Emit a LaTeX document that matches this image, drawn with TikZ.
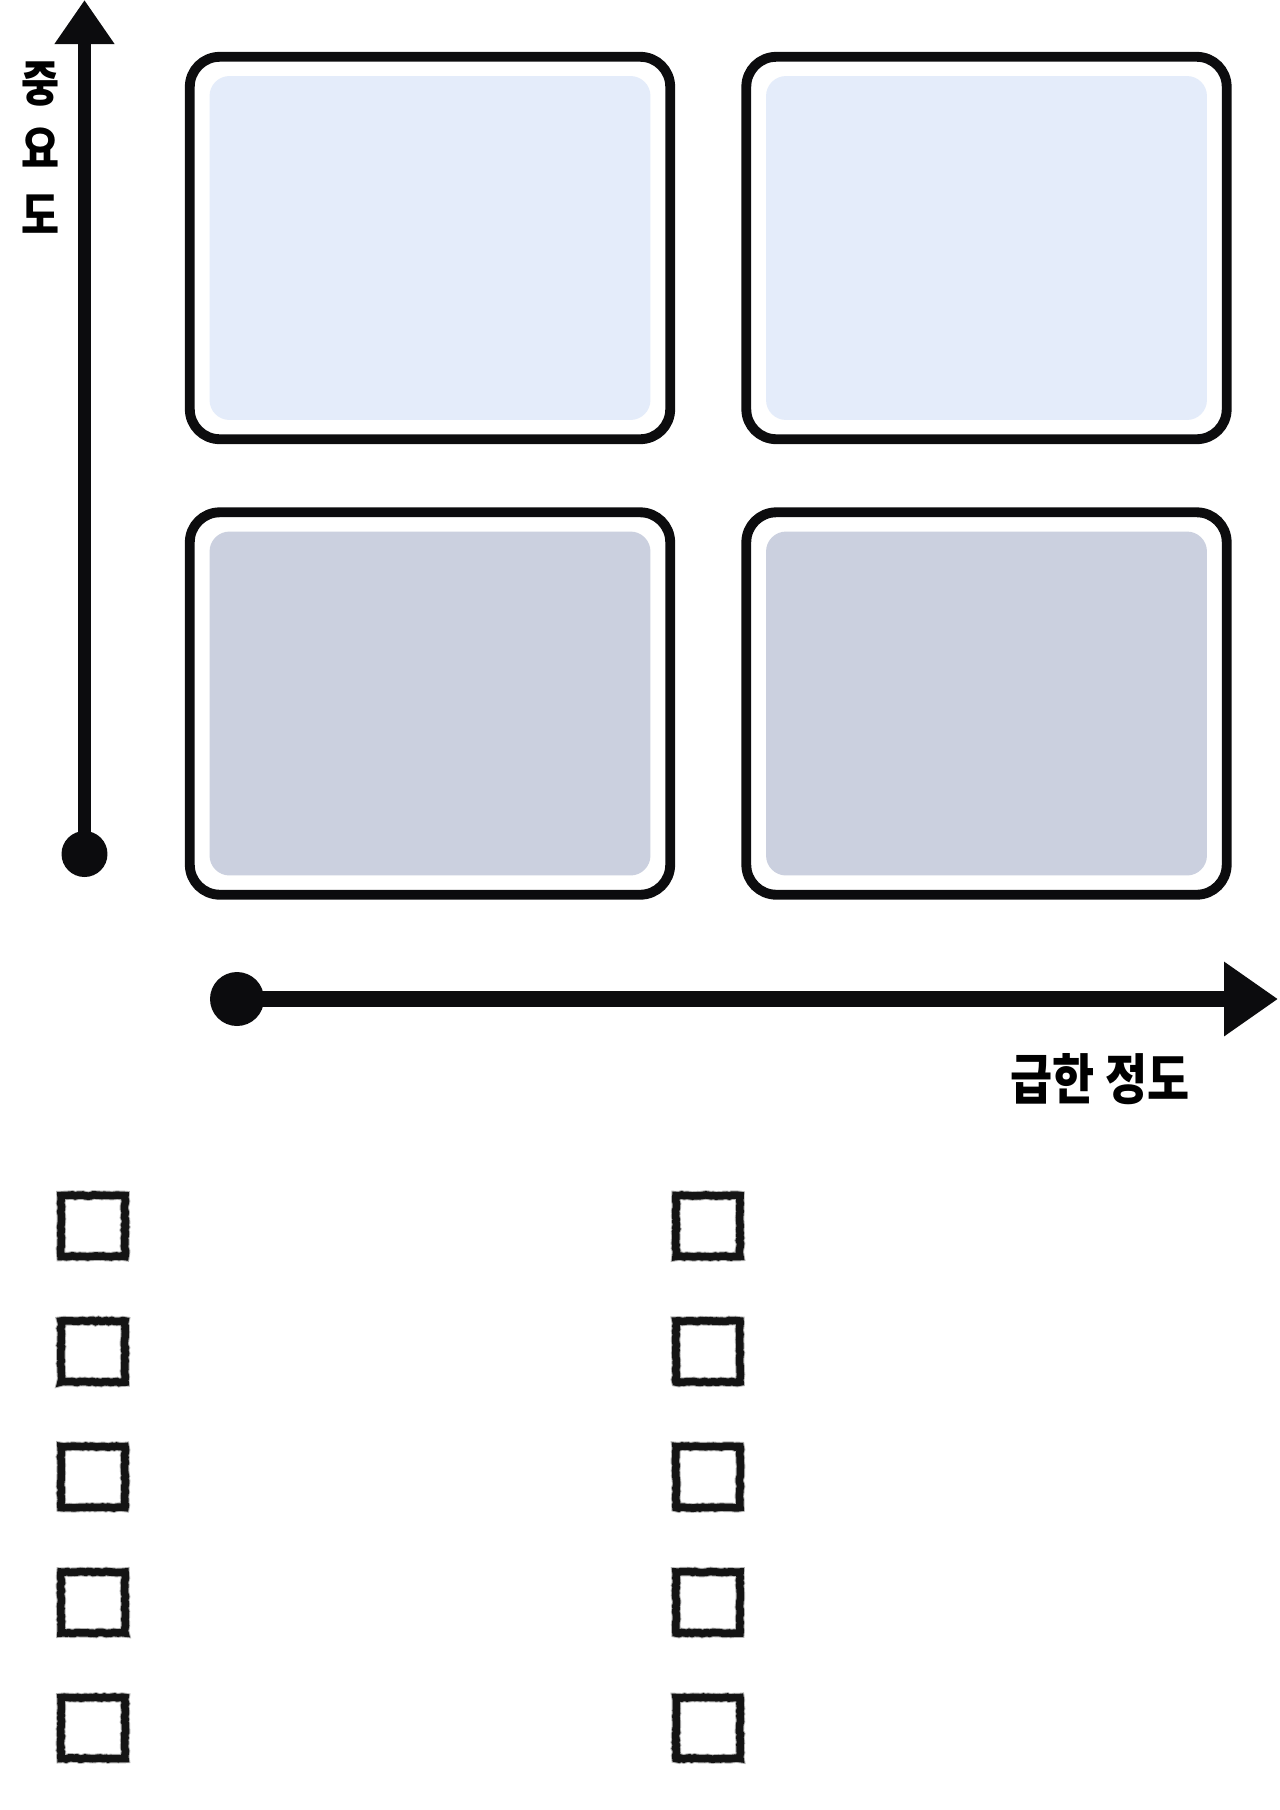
\documentclass[tikz,border=0pt]{standalone}
\usepackage{fontspec}
\newfontfamily\krfont{Noto Sans CJK KR}
\usetikzlibrary{arrows.meta,decorations.pathmorphing}
\definecolor{inkblack}{HTML}{0C0C0E}
\definecolor{highfill}{HTML}{E4ECFA}
\definecolor{lowfill}{HTML}{CBD0DF}

\begin{document}
\begin{tikzpicture}[x=0.02cm,y=-0.02cm]
\tikzstyle{quad} = [rectangle, draw=inkblack, line width=5.6pt, fill=white,
rounded corners=0.6cm, minimum width=9.61cm, minimum height=7.65cm, inner sep=0pt]
\tikzstyle{high} = [rectangle, fill=highfill, rounded corners=0.4cm,
minimum width=8.82cm, minimum height=6.88cm, inner sep=0pt]
\tikzstyle{low} = [high, fill=lowfill]
\tikzstyle{dot} = [circle, fill=inkblack, inner sep=0pt]
\tikzstyle{axislabel} = [text=black, inner sep=0pt]
\tikzstyle{tickbox} = [rectangle, draw=black!92, line width=4.3pt,
minimum width=1.28cm, minimum height=1.22cm, inner sep=0pt,
decorate, decoration={random steps, segment length=1.5pt, amplitude=0.35pt},
preaction={draw=black!30, line width=5.4pt, decorate}]
\pgfmathsetseed{7}
\useasboundingbox (0,0) rectangle (1280,1810);
% quadrants
\node [quad] (impN) at (430,248) {};
\node [quad] (impY) at (986.5,248) {};
\node [quad] (lowN) at (430,703.5) {};
\node [quad] (lowY) at (986.5,703.5) {};
\node [high] (impNin) at (impN) {};
\node [high] (impYin) at (impY) {};
\node [low] (lowNin) at (lowN) {};
\node [low] (lowYin) at (lowY) {};
% axes
\node [dot, minimum size=0.92cm] (ydot) at (84.5,854) {};
\coordinate (ytip) at (84.5,0);
\draw [inkblack, line width=7.4pt, -{Triangle[length=0.88cm,width=1.14cm]}] (ydot.center) -- (ytip);
\node [dot, minimum size=1.08cm] (xdot) at (237,999) {};
\coordinate (xtip) at (1278,999);
\draw [inkblack, line width=9.4pt, -{Triangle[length=1.08cm,width=1.42cm]}] (xdot.center) -- (xtip);
\node [axislabel, align=center, font=\krfont\bfseries\fontsize{28}{37.5}\selectfont, xscale=0.84] (ylabel) at (41,148) {중\\요\\도};
\node [axislabel, font=\krfont\bfseries\fontsize{31}{31}\selectfont, xscale=0.84] (xlabel) at (1100,1079) {급한 정도};
% checklist
\node [tickbox] (lbox1) at (93,1226) {};
\node [tickbox] (lbox2) at (93,1351.5) {};
\node [tickbox] (lbox3) at (93,1477) {};
\node [tickbox] (lbox4) at (93,1602.5) {};
\node [tickbox] (lbox5) at (93,1728) {};
\node [tickbox] (rbox1) at (708,1226) {};
\node [tickbox] (rbox2) at (708,1351.5) {};
\node [tickbox] (rbox3) at (708,1477) {};
\node [tickbox] (rbox4) at (708,1602.5) {};
\node [tickbox] (rbox5) at (708,1728) {};
\end{tikzpicture}
\end{document}
